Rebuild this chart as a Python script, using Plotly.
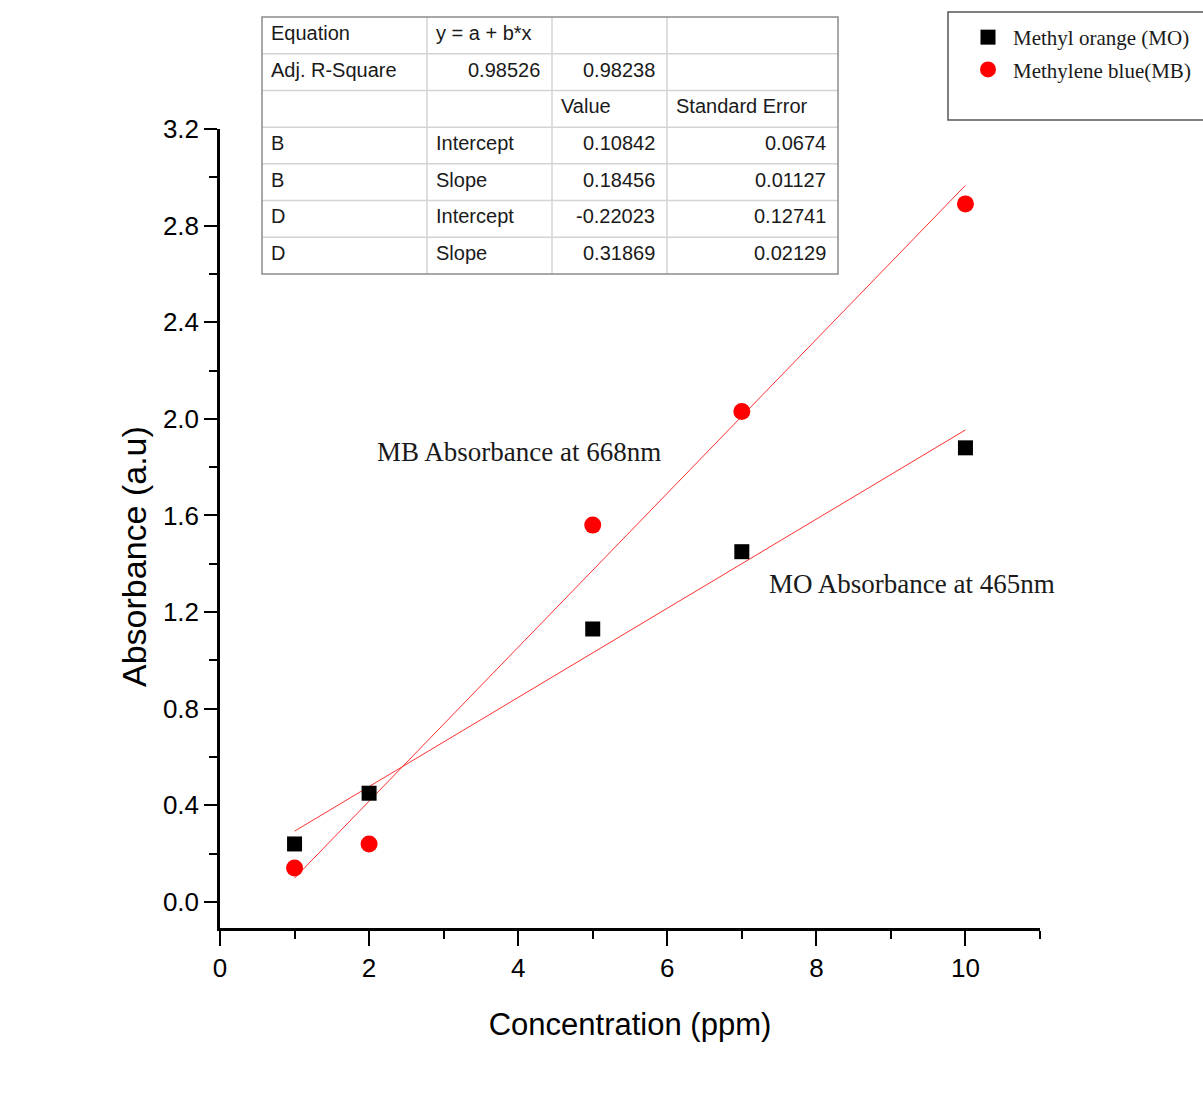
import plotly.graph_objects as go

# ---------------- data ----------------
conc = [1, 2, 5, 7, 10]
mo_abs = [0.24, 0.45, 1.13, 1.45, 1.88]
mb_abs = [0.14, 0.24, 1.56, 2.03, 2.89]

mo_intercept, mo_slope = 0.10842, 0.18456
mb_intercept, mb_slope = -0.22023, 0.31869

fit_x = [1, 10]

table_rows = [
    ["Equation", "y = a + b*x", "", ""],
    ["Adj. R-Square", "0.98526", "0.98238", ""],
    ["", "", "Value", "Standard Error"],
    ["B", "Intercept", "0.10842", "0.0674"],
    ["B", "Slope", "0.18456", "0.01127"],
    ["D", "Intercept", "-0.22023", "0.12741"],
    ["D", "Slope", "0.31869", "0.02129"],
]
# alignment per cell: 'l' or 'r'
table_align = [
    ["l", "l", "l", "l"],
    ["l", "r", "r", "l"],
    ["l", "l", "l", "l"],
    ["l", "l", "r", "r"],
    ["l", "l", "r", "r"],
    ["l", "l", "r", "r"],
    ["l", "l", "r", "r"],
]

# ---------------- layout geometry (pixels) ----------------
W, H = 1203, 1101
PL, PR, PT, PB = 220, 1040, 129, 928  # plot area edges in px


def px(xp):
    return (xp - PL) / (PR - PL)


def py(yp):
    return (PB - yp) / (PB - PT)


fig = go.Figure()

fig.add_trace(go.Scatter(
    x=fit_x, y=[mo_intercept + mo_slope * v for v in fit_x],
    mode="lines", line=dict(color="#ff3030", width=1), showlegend=False, hoverinfo="skip"))
fig.add_trace(go.Scatter(
    x=fit_x, y=[mb_intercept + mb_slope * v for v in fit_x],
    mode="lines", line=dict(color="#ff3030", width=1), showlegend=False, hoverinfo="skip"))

fig.add_trace(go.Scatter(
    x=conc, y=mo_abs, mode="markers", name="Methyl orange (MO)",
    marker=dict(symbol="square", size=15, color="black"), legendgroup="a"))
fig.add_trace(go.Scatter(
    x=conc, y=mb_abs, mode="markers", name="Methylene blue(MB)",
    marker=dict(symbol="circle", size=17, color="#ff0000"), legendgroup="b"))

shapes = []
annotations = []

# table
col_edges = [262, 427, 552, 667, 838]
row_top, row_bot = 17, 274
nrows = len(table_rows)
rh = (row_bot - row_top) / nrows
row_edges = [row_top + i * rh for i in range(nrows + 1)]

for yy in row_edges[1:-1]:
    shapes.append(dict(type="line", xref="paper", yref="paper",
                       x0=px(col_edges[0]), x1=px(col_edges[-1]), y0=py(yy), y1=py(yy),
                       line=dict(color="#d4d4d4", width=1.5)))
for xx in col_edges[1:-1]:
    shapes.append(dict(type="line", xref="paper", yref="paper",
                       x0=px(xx), x1=px(xx), y0=py(row_top), y1=py(row_bot),
                       line=dict(color="#d4d4d4", width=1.5)))
shapes.append(dict(type="rect", xref="paper", yref="paper",
                   x0=px(col_edges[0]), x1=px(col_edges[-1]), y0=py(row_top), y1=py(row_bot),
                   line=dict(color="#8c8c8c", width=1.5)))

for r, row in enumerate(table_rows):
    yc = row_edges[r] + rh / 2 - 2.5
    for c, txt in enumerate(row):
        if not txt:
            continue
        if table_align[r][c] == "l":
            annotations.append(dict(x=px(col_edges[c] + 7), y=py(yc), xref="paper", yref="paper",
                                    text=txt, showarrow=False, xanchor="left", yanchor="middle",
                                    font=dict(family="Liberation Sans, Arial", size=20, color="#1a1a1a")))
        else:
            annotations.append(dict(x=px(col_edges[c + 1] - 10), y=py(yc), xref="paper", yref="paper",
                                    text=txt, showarrow=False, xanchor="right", yanchor="middle",
                                    font=dict(family="Liberation Sans, Arial", size=20, color="#1a1a1a")))

# legend box
shapes.append(dict(type="rect", xref="paper", yref="paper",
                   x0=px(948), x1=px(1210), y0=py(12), y1=py(120),
                   line=dict(color="#555555", width=1.5)))

# annotations on plot
annotations.append(dict(x=px(519), y=py(452), xref="paper", yref="paper",
                        text="MB Absorbance at 668nm", showarrow=False,
                        xanchor="center", yanchor="middle",
                        font=dict(family="Liberation Serif, Times New Roman", size=27, color="#1a1a1a")))
annotations.append(dict(x=px(912), y=py(584), xref="paper", yref="paper",
                        text="MO Absorbance at 465nm", showarrow=False,
                        xanchor="center", yanchor="middle",
                        font=dict(family="Liberation Serif, Times New Roman", size=27, color="#1a1a1a")))

# y-axis title (placed as rotated text to match its off-centre position)
annotations.append(dict(x=px(134), y=py(557), xref="paper", yref="paper",
                        text="Absorbance (a.u)", showarrow=False, textangle=-90,
                        xanchor="center", yanchor="middle",
                        font=dict(family="Liberation Sans, Arial", size=34, color="black")))

fig.update_layout(
    width=W, height=H,
    margin=dict(l=PL, r=W - PR, t=PT, b=H - PB, autoexpand=False),
    paper_bgcolor="white", plot_bgcolor="white",
    shapes=shapes, annotations=annotations,
    legend=dict(x=px(963), y=py(17), xanchor="left", yanchor="top",
                bgcolor="rgba(0,0,0,0)", borderwidth=0, tracegroupgap=2, itemwidth=40,
                font=dict(family="Liberation Serif, Times New Roman", size=21, color="#1a1a1a")),
    xaxis=dict(range=[0, 11], tickvals=[0, 2, 4, 6, 8, 10], showgrid=False, zeroline=False,
               showline=True, linecolor="black", linewidth=2.5,
               ticks="outside", ticklen=15, tickwidth=2, tickcolor="black",
               minor=dict(tickvals=[1, 3, 5, 7, 9, 11], ticks="outside", ticklen=8, tickwidth=2, tickcolor="black"),
               tickfont=dict(family="Liberation Sans, Arial", size=26, color="black"),
               title=dict(text="Concentration (ppm)", standoff=32,
                          font=dict(family="Liberation Sans, Arial", size=31, color="black"))),
    yaxis=dict(range=[-0.108, 3.2], tickvals=[0, 0.4, 0.8, 1.2, 1.6, 2.0, 2.4, 2.8, 3.2],
               tickformat=".1f", showgrid=False, zeroline=False,
               showline=True, linecolor="black", linewidth=2.5,
               ticks="outside", ticklen=13, tickwidth=2, tickcolor="black",
               minor=dict(tickvals=[0.2, 0.6, 1.0, 1.4, 1.8, 2.2, 2.6, 3.0], ticks="outside", ticklen=8, tickwidth=2, tickcolor="black"),
               tickfont=dict(family="Liberation Sans, Arial", size=26, color="black")),
)

fig.write_html("out.html")
